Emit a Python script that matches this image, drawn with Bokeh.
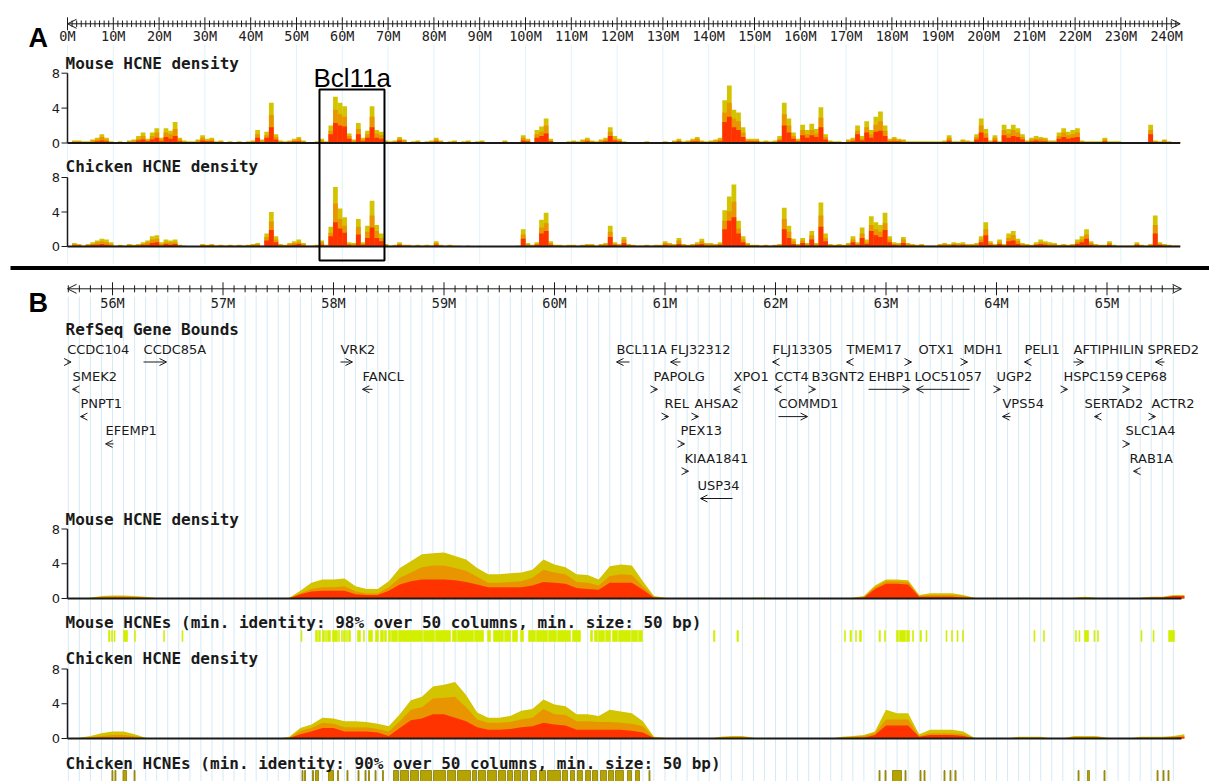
from bokeh.plotting import figure
from bokeh.models import Range1d, ColumnDataSource, Arrow, OpenHead
from bokeh.core.properties import value
from bokeh.embed import file_html
from bokeh.resources import INLINE

# ======================= DATA =======================
# Panel A: whole chromosome ruler (Mb)
A_ticks = [0, 10, 20, 30, 40, 50, 60, 70, 80, 90, 100, 110, 120, 130, 140, 150, 160, 170, 180, 190, 200, 210, 220, 230, 240]
A_tick_labels = ["0M", "10M", "20M", "30M", "40M", "50M", "60M", "70M", "80M", "90M", "100M", "110M", "120M",
                 "130M", "140M", "150M", "160M", "170M", "180M", "190M", "200M", "210M", "220M", "230M", "240M"]
A_chrom_len = 242.95
bcl_box = [55.02, 69.21]          # highlighted region in panel A (Mb)

# Panel A densities, 1 Mb bins starting at 0 (total / mid / low identity layers)
mouseA_total = [0, 0.3, 0.3, 0.2, 0.2, 0.4, 0.6, 1.0, 0.6, 0.2,
                0.1, 0.2, 0.1, 0.3, 0.4, 0.8, 1.2, 0.5, 1.2, 1.7,
                0.6, 1.7, 1.4, 2.4, 0.6, 0.3, 0.2, 0.2, 0.4, 0.9,
                0.5, 0.6, 0.2, 0.3, 0.1, 0.2, 0.1, 0.2, 0.1, 0.2,
                0.3, 1.5, 0.4, 1.3, 4.6, 1.0, 0.3, 0.2, 0.3, 0.5,
                0.7, 0.3, 0.1, 0.1, 0.2, 0.5, 0.2, 2.0, 5.3, 4.6,
                4.2, 1.1, 0.4, 2.3, 0.6, 1.4, 4.2, 1.5, 1.3, 0.3,
                0.2, 0.3, 0.7, 0.4, 0.1, 0.2, 0.3, 0.1, 0.2, 0.3,
                0.6, 0.3, 0.1, 0.2, 0.3, 0.1, 0.2, 0.3, 0.1, 0.2,
                0.3, 0.1, 0, 0, 0, 0.3, 0.1, 0.1, 0.1, 0.9,
                0.5, 0.1, 1.5, 1.9, 2.8, 0.5, 0.1, 0.1, 0.1, 0.2,
                0.3, 0.2, 0.4, 0.6, 0.3, 0.2, 0.4, 0.6, 1.8, 0.8,
                0.5, 0.2, 0.1, 0.1, 0.1, 0.1, 0.2, 0.1, 0.1, 0.1,
                0.2, 0.1, 0.3, 0.5, 0.2, 0.3, 0.5, 0.7, 0.3, 0.2,
                0.3, 0.4, 0.6, 4.9, 6.6, 3.8, 3.5, 1.8, 0.5, 0.5,
                0.5, 0.2, 0.3, 0.2, 0.3, 0.8, 4.6, 2.8, 1.2, 0.5,
                2.1, 1.5, 2.2, 1.6, 4.1, 1.0, 0.3, 0.2, 0.2, 0.1,
                0.4, 0.6, 2.0, 0.8, 2.5, 1.5, 3.0, 3.6, 2.0, 0.5,
                0.7, 0.5, 0.4, 0.2, 0.2, 0.2, 0.2, 0.2, 0.2, 0.2,
                0.2, 0.3, 0.9, 0.2, 0.2, 0.4, 0.3, 0.2, 1.0, 2.8,
                1.6, 0.3, 0.9, 0.2, 2.1, 1.6, 2.1, 1.7, 1.0, 0.3,
                0.6, 0.8, 0.7, 0.6, 0.3, 0.3, 1.2, 1.7, 1.3, 1.5,
                1.7, 0.3, 0.2, 0.2, 0.2, 0.2, 0.6, 0.2, 0.2, 0.2,
                0.1, 0.1, 0.1, 0.1, 0.1, 0.1, 2.1, 0.3, 0.2, 0.4,
                0.2, 0.1, 0.1]
mouseA_mid = [0, 0.2, 0.2, 0.1, 0.1, 0.3, 0.4, 0.7, 0.4, 0.1,
              0.1, 0.1, 0.1, 0.2, 0.3, 0.5, 0.8, 0.3, 0.8, 1.2,
              0.4, 1.2, 1.0, 1.6, 0.4, 0.2, 0.1, 0.1, 0.3, 0.6,
              0.3, 0.4, 0.1, 0.2, 0.1, 0.1, 0.1, 0.1, 0.1, 0.1,
              0.2, 1.0, 0.3, 0.9, 3.2, 0.7, 0.2, 0.1, 0.2, 0.3,
              0.5, 0.2, 0.1, 0.1, 0.1, 0.3, 0.1, 1.4, 3.8, 3.3,
              3.0, 0.8, 0.3, 1.6, 0.4, 1.0, 3.0, 1.1, 0.9, 0.2,
              0.1, 0.2, 0.5, 0.3, 0.1, 0.1, 0.2, 0.1, 0.1, 0.2,
              0.4, 0.2, 0.1, 0.1, 0.2, 0.1, 0.1, 0.2, 0.1, 0.1,
              0.2, 0.1, 0, 0, 0, 0.2, 0.1, 0.1, 0.1, 0.6,
              0.3, 0.1, 1.0, 1.3, 2.0, 0.3, 0.1, 0.1, 0.1, 0.1,
              0.2, 0.1, 0.3, 0.4, 0.2, 0.1, 0.3, 0.4, 1.3, 0.5,
              0.3, 0.1, 0.1, 0.1, 0.1, 0.1, 0.1, 0.1, 0.1, 0.1,
              0.1, 0.1, 0.2, 0.3, 0.1, 0.2, 0.3, 0.5, 0.2, 0.1,
              0.2, 0.3, 0.4, 3.5, 4.6, 2.8, 2.5, 1.2, 0.3, 0.3,
              0.3, 0.1, 0.2, 0.1, 0.2, 0.5, 3.3, 2.0, 0.8, 0.3,
              1.5, 1.0, 1.5, 1.1, 2.9, 0.7, 0.2, 0.1, 0.1, 0.1,
              0.3, 0.4, 1.4, 0.5, 1.8, 1.0, 2.1, 2.5, 1.4, 0.3,
              0.5, 0.3, 0.3, 0.1, 0.1, 0.1, 0.1, 0.1, 0.1, 0.1,
              0.1, 0.2, 0.6, 0.1, 0.1, 0.3, 0.2, 0.1, 0.7, 2.0,
              1.1, 0.2, 0.6, 0.1, 1.5, 1.1, 1.5, 1.2, 0.7, 0.2,
              0.4, 0.5, 0.5, 0.4, 0.2, 0.2, 0.8, 1.2, 0.9, 1.0,
              1.2, 0.2, 0.1, 0.1, 0.1, 0.1, 0.4, 0.1, 0.1, 0.1,
              0.1, 0.1, 0.1, 0.1, 0.1, 0.1, 1.5, 0.2, 0.1, 0.3,
              0.1, 0.1, 0.1]
mouseA_low = [0, 0.1, 0.1, 0.1, 0, 0.1, 0.2, 0.3, 0.2, 0,
              0, 0.1, 0, 0.1, 0.1, 0.3, 0.4, 0.2, 0.4, 0.6,
              0.2, 0.7, 0.5, 0.8, 0.2, 0.1, 0.1, 0, 0.1, 0.3,
              0.2, 0.2, 0, 0.1, 0, 0, 0, 0.1, 0, 0,
              0.1, 0.6, 0.1, 0.6, 1.8, 0.4, 0.1, 0, 0.1, 0.2,
              0.2, 0.1, 0, 0, 0, 0.1, 0.1, 1.0, 2.3, 2.0,
              1.9, 0.5, 0.1, 1.0, 0.2, 0.6, 1.8, 0.6, 0.5, 0.1,
              0, 0.1, 0.3, 0.1, 0, 0, 0.1, 0, 0, 0.1,
              0.2, 0.1, 0, 0, 0.1, 0, 0, 0.1, 0, 0,
              0.1, 0, 0, 0, 0, 0.1, 0, 0, 0, 0.3,
              0.2, 0, 0.6, 0.8, 1.1, 0.2, 0, 0, 0, 0.1,
              0.1, 0.1, 0.1, 0.2, 0.1, 0, 0.1, 0.2, 0.8, 0.3,
              0.2, 0.1, 0, 0, 0, 0, 0.1, 0, 0, 0,
              0.1, 0, 0.1, 0.2, 0.1, 0.1, 0.2, 0.2, 0.1, 0.1,
              0.1, 0.1, 0.2, 2.4, 3.0, 1.8, 1.5, 0.7, 0.2, 0.2,
              0.2, 0.1, 0.1, 0.1, 0.1, 0.3, 2.0, 1.2, 0.5, 0.2,
              0.9, 0.6, 0.9, 0.7, 1.8, 0.4, 0.1, 0.1, 0.1, 0,
              0.1, 0.2, 1.0, 0.3, 1.2, 0.6, 1.3, 1.4, 0.8, 0.2,
              0.2, 0.2, 0.1, 0.1, 0.1, 0, 0.1, 0, 0.1, 0,
              0.1, 0.1, 0.3, 0.1, 0, 0.1, 0.1, 0.1, 0.4, 1.2,
              0.6, 0.1, 0.3, 0.1, 0.9, 0.6, 0.8, 0.7, 0.4, 0.1,
              0.2, 0.3, 0.2, 0.2, 0.1, 0.1, 0.5, 0.7, 0.5, 0.6,
              0.7, 0.1, 0.1, 0, 0.1, 0, 0.2, 0.1, 0, 0.1,
              0, 0, 0.1, 0, 0, 0, 1.0, 0.1, 0.1, 0.1,
              0.1, 0, 0]
chickA_total = [0, 0.4, 0.3, 0.1, 0.3, 0.5, 0.7, 0.9, 0.8, 0.5,
                0.1, 0.2, 0.1, 0.3, 0.2, 0.3, 0.5, 0.7, 1.2, 1.3,
                0.5, 0.8, 0.7, 0.8, 0.2, 0.1, 0, 0, 0, 0.3,
                0.2, 0.3, 0.1, 0.2, 0.1, 0.2, 0.1, 0.2, 0.1, 0.2,
                0.3, 0.4, 0.1, 1.5, 4.0, 1.2, 0.3, 0.2, 0.4, 0.6,
                0.8, 0.4, 0.1, 0.1, 0.2, 0.7, 0.2, 2.3, 6.9, 4.4,
                3.4, 0.5, 0.4, 3.2, 0.5, 2.4, 5.3, 2.5, 1.5, 0.3,
                0.1, 0.2, 0.5, 0.2, 0.2, 0.1, 0.2, 0.1, 0.2, 0.1,
                0.6, 0.2, 0.1, 0.2, 0.1, 0.1, 0, 0.1, 0, 0,
                0, 0, 0, 0, 0, 0, 0, 0, 0.1, 2.0,
                0.4, 0.2, 0.5, 3.1, 3.9, 0.6, 0.2, 0.2, 0.1, 0.2,
                0.2, 0.1, 0.2, 0.3, 0.3, 0.1, 0.3, 0.4, 2.4, 0.5,
                0.3, 1.1, 0.3, 0.2, 0.1, 0.1, 0.2, 0.1, 0.2, 0.2,
                0.6, 0.4, 0.3, 1.0, 0.3, 0.2, 0.3, 0.5, 0.9, 0.4,
                0.4, 0.3, 0.5, 4.2, 5.8, 7.2, 3.0, 1.2, 0.4, 0.2,
                0.2, 0.1, 0.2, 0.1, 0.2, 0.3, 4.5, 2.4, 0.9, 0.3,
                1.0, 0.4, 1.8, 0.4, 5.1, 1.5, 0.3, 0.2, 0.3, 0.2,
                0.4, 1.2, 0.5, 2.2, 0.8, 3.5, 2.8, 2.5, 3.9, 1.2,
                0.5, 0.4, 1.1, 0.4, 0.3, 0.2, 0.3, 0.1, 0.1, 0.1,
                0.3, 0.4, 0.3, 0.5, 0.4, 0.5, 0.3, 0.3, 0.4, 1.2,
                2.8, 0.6, 0.3, 0.8, 0.3, 1.5, 1.8, 0.9, 0.4, 0.3,
                0.2, 0.5, 0.8, 0.6, 0.5, 0.4, 0.2, 0.3, 0.2, 0.3,
                0.8, 1.2, 2.0, 0.6, 0.3, 0.2, 0.2, 0.6, 0.2, 0.1,
                0.1, 0.1, 0.1, 0.5, 0.2, 0.1, 0.3, 3.6, 0.5, 0.3,
                0.2, 0.1, 0.1]
chickA_mid = [0, 0.3, 0.2, 0.1, 0.2, 0.3, 0.5, 0.6, 0.5, 0.3,
              0.1, 0.1, 0.1, 0.2, 0.1, 0.2, 0.3, 0.5, 0.8, 0.9,
              0.3, 0.5, 0.5, 0.5, 0.1, 0.1, 0, 0, 0, 0.2,
              0.1, 0.2, 0.1, 0.1, 0.1, 0.1, 0.1, 0.1, 0.1, 0.1,
              0.2, 0.3, 0.1, 1.1, 2.9, 0.8, 0.2, 0.1, 0.3, 0.4,
              0.5, 0.3, 0.1, 0.1, 0.1, 0.5, 0.1, 1.6, 5.0, 3.2,
              2.4, 0.3, 0.3, 2.3, 0.3, 1.7, 3.6, 1.8, 1.0, 0.2,
              0.1, 0.1, 0.3, 0.1, 0.1, 0.1, 0.1, 0.1, 0.1, 0.1,
              0.4, 0.1, 0.1, 0.1, 0.1, 0.1, 0, 0.1, 0, 0,
              0, 0, 0, 0, 0, 0, 0, 0, 0.1, 1.4,
              0.3, 0.1, 0.3, 2.2, 2.7, 0.4, 0.1, 0.1, 0.1, 0.1,
              0.1, 0.1, 0.1, 0.2, 0.2, 0.1, 0.2, 0.3, 1.7, 0.3,
              0.2, 0.8, 0.2, 0.1, 0.1, 0.1, 0.1, 0.1, 0.1, 0.1,
              0.4, 0.3, 0.2, 0.7, 0.2, 0.1, 0.2, 0.3, 0.6, 0.3,
              0.3, 0.2, 0.3, 3.0, 4.1, 5.2, 2.1, 0.8, 0.3, 0.1,
              0.1, 0.1, 0.1, 0.1, 0.1, 0.2, 3.2, 1.7, 0.6, 0.2,
              0.7, 0.3, 1.3, 0.3, 3.6, 1.0, 0.2, 0.1, 0.2, 0.1,
              0.3, 0.8, 0.3, 1.5, 0.5, 2.5, 2.0, 1.7, 2.7, 0.8,
              0.3, 0.3, 0.8, 0.3, 0.2, 0.1, 0.2, 0.1, 0.1, 0.1,
              0.2, 0.3, 0.2, 0.3, 0.3, 0.3, 0.2, 0.2, 0.3, 0.8,
              2.0, 0.4, 0.2, 0.5, 0.2, 1.0, 1.3, 0.6, 0.3, 0.2,
              0.1, 0.3, 0.5, 0.4, 0.3, 0.3, 0.1, 0.2, 0.1, 0.2,
              0.5, 0.8, 1.4, 0.4, 0.2, 0.1, 0.1, 0.4, 0.1, 0.1,
              0.1, 0.1, 0.1, 0.3, 0.1, 0.1, 0.2, 2.5, 0.3, 0.2,
              0.1, 0.1, 0.1]
chickA_low = [0, 0.1, 0.1, 0, 0.1, 0.2, 0.2, 0.3, 0.2, 0.1,
              0, 0.1, 0, 0.1, 0.1, 0.1, 0.2, 0.2, 0.4, 0.5,
              0.1, 0.3, 0.2, 0.3, 0.1, 0, 0, 0, 0, 0.1,
              0.1, 0.1, 0, 0.1, 0, 0.1, 0, 0.1, 0, 0.1,
              0.1, 0.1, 0, 0.7, 1.9, 0.5, 0.1, 0.1, 0.1, 0.2,
              0.3, 0.1, 0, 0, 0.1, 0.2, 0.1, 1.2, 2.8, 2.1,
              1.6, 0.2, 0.1, 1.4, 0.2, 1.0, 2.2, 1.0, 0.6, 0.1,
              0, 0.1, 0.2, 0.1, 0.1, 0, 0.1, 0, 0.1, 0,
              0.2, 0.1, 0, 0.1, 0, 0, 0, 0, 0, 0,
              0, 0, 0, 0, 0, 0, 0, 0, 0, 0.9,
              0.1, 0.1, 0.2, 1.5, 1.8, 0.2, 0.1, 0.1, 0, 0.1,
              0.1, 0, 0.1, 0.1, 0.1, 0, 0.1, 0.1, 1.1, 0.2,
              0.1, 0.4, 0.1, 0.1, 0, 0, 0.1, 0, 0.1, 0.1,
              0.2, 0.1, 0.1, 0.3, 0.1, 0.1, 0.1, 0.2, 0.3, 0.1,
              0.1, 0.1, 0.2, 2.0, 3.0, 3.4, 1.5, 0.5, 0.1, 0.1,
              0.1, 0, 0.1, 0, 0.1, 0.1, 2.0, 1.0, 0.3, 0.1,
              0.4, 0.1, 0.8, 0.1, 2.3, 0.6, 0.1, 0.1, 0.1, 0.1,
              0.1, 0.5, 0.2, 1.0, 0.3, 1.8, 1.3, 1.1, 1.9, 0.5,
              0.2, 0.1, 0.4, 0.1, 0.1, 0.1, 0.1, 0, 0, 0,
              0.1, 0.1, 0.1, 0.2, 0.1, 0.2, 0.1, 0.1, 0.1, 0.5,
              1.3, 0.2, 0.1, 0.3, 0.1, 0.6, 0.7, 0.3, 0.1, 0.1,
              0.1, 0.2, 0.3, 0.2, 0.1, 0.1, 0.1, 0.1, 0.1, 0.1,
              0.3, 0.5, 0.9, 0.2, 0.1, 0.1, 0.1, 0.2, 0.1, 0,
              0, 0, 0, 0.2, 0.1, 0, 0.1, 1.5, 0.2, 0.1,
              0.1, 0, 0]

# Panel B: zoomed region ruler (Mb)
B_ticks = [56, 57, 58, 59, 60, 61, 62, 63, 64, 65]
B_tick_labels = ["56M", "57M", "58M", "59M", "60M", "61M", "62M", "63M", "64M", "65M"]
B_view = [55.593, 65.674]

# Panel B densities, 0.1 Mb steps starting at 55.6 Mb
B_bin_start, B_bin_step = 55.6, 0.1
mouseB_total = [0, 0, 0.1, 0.3, 0.35, 0.35, 0.3, 0.2, 0.05, 0,
                0, 0, 0, 0, 0, 0, 0, 0, 0, 0,
                0.1, 0.9, 1.8, 2.2, 2.2, 2.3, 1.4, 1.1, 1.1, 2.0,
                3.5, 4.3, 5.1, 5.2, 5.3, 4.9, 4.5, 3.5, 2.8, 2.8,
                2.9, 3.0, 3.3, 4.5, 3.9, 3.6, 2.8, 2.7, 2.2, 3.7,
                3.9, 3.8, 2.0, 0.3, 0.1, 0, 0, 0, 0, 0,
                0, 0, 0.1, 0.1, 0, 0, 0, 0, 0, 0,
                0, 0.1, 0.3, 1.5, 2.2, 2.2, 2.1, 0.4, 0.6, 0.6,
                0.6, 0.4, 0.1, 0, 0, 0, 0.1, 0.1, 0, 0,
                0, 0.1, 0.2, 0.1, 0, 0, 0, 0.1, 0.2, 0.2,
                0.4, 0.4]
mouseB_mid = [0, 0, 0.05, 0.2, 0.25, 0.25, 0.2, 0.1, 0, 0,
              0, 0, 0, 0, 0, 0, 0, 0, 0, 0,
              0.05, 0.6, 1.1, 1.3, 1.3, 1.4, 0.8, 0.6, 0.6, 1.3,
              2.4, 3.0, 3.6, 3.8, 3.8, 3.5, 3.2, 2.5, 1.8, 1.8,
              1.9, 2.0, 2.4, 3.3, 3.0, 2.8, 1.9, 1.8, 1.5, 2.6,
              2.8, 2.7, 1.4, 0.2, 0.05, 0, 0, 0, 0, 0,
              0, 0, 0.05, 0.05, 0, 0, 0, 0, 0, 0,
              0, 0.05, 0.2, 1.3, 2.0, 2.0, 1.9, 0.3, 0.4, 0.4,
              0.4, 0.3, 0.05, 0, 0, 0, 0.05, 0.05, 0, 0,
              0, 0.05, 0.1, 0.05, 0, 0, 0, 0.05, 0.15, 0.15,
              0.3, 0.3]
mouseB_low = [0, 0, 0, 0.05, 0.1, 0.1, 0.05, 0.05, 0, 0,
              0, 0, 0, 0, 0, 0, 0, 0, 0, 0,
              0, 0.5, 0.8, 0.9, 0.9, 0.9, 0.5, 0.4, 0.4, 0.9,
              1.6, 2.0, 2.2, 2.2, 2.2, 2.1, 1.9, 1.6, 1.3, 1.3,
              1.3, 1.3, 1.5, 1.9, 1.8, 1.7, 1.2, 1.1, 1.0, 1.8,
              1.8, 1.8, 1.0, 0.1, 0, 0, 0, 0, 0, 0,
              0, 0, 0, 0, 0, 0, 0, 0, 0, 0,
              0, 0, 0.1, 1.1, 1.7, 1.7, 1.6, 0.2, 0.2, 0.2,
              0.2, 0.1, 0, 0, 0, 0, 0, 0, 0, 0,
              0, 0, 0.05, 0, 0, 0, 0, 0, 0.1, 0.1,
              0.3, 0.3]
chickB_total = [0, 0.1, 0.3, 0.6, 0.8, 0.8, 0.5, 0.1, 0, 0,
                0, 0, 0, 0, 0, 0, 0, 0, 0, 0,
                0.2, 1.2, 1.6, 2.4, 2.3, 2.0, 2.0, 1.9, 1.7, 1.4,
                2.8, 4.4, 4.8, 6.0, 6.2, 6.5, 5.0, 3.0, 2.4, 2.4,
                2.6, 3.2, 3.4, 4.5, 3.9, 3.7, 2.8, 2.8, 2.6, 3.3,
                3.1, 2.9, 2.0, 0.2, 0.1, 0, 0, 0, 0, 0.2,
                0.3, 0.3, 0.1, 0, 0, 0, 0, 0, 0, 0,
                0.2, 0.3, 0.4, 0.8, 3.3, 2.9, 2.9, 0.5, 1.0, 1.0,
                1.0, 0.8, 0.1, 0, 0, 0, 0.2, 0.2, 0.2, 0,
                0, 0.3, 0.3, 0.3, 0.1, 0, 0, 0.2, 0.2, 0.2,
                0.3, 0.5]
chickB_mid = [0, 0.05, 0.15, 0.3, 0.4, 0.4, 0.25, 0.05, 0, 0,
              0, 0, 0, 0, 0, 0, 0, 0, 0, 0,
              0.1, 0.9, 1.2, 1.8, 1.7, 1.3, 1.3, 1.3, 1.1, 0.8,
              2.0, 3.3, 3.6, 4.6, 4.7, 4.8, 3.6, 2.2, 1.8, 1.8,
              1.9, 2.2, 2.4, 3.4, 2.8, 2.7, 2.0, 2.0, 1.9, 1.9,
              1.8, 1.7, 1.4, 0.1, 0.05, 0, 0, 0, 0, 0.1,
              0.2, 0.2, 0.05, 0, 0, 0, 0, 0, 0, 0,
              0.1, 0.2, 0.3, 0.6, 2.2, 2.2, 2.2, 0.3, 0.6, 0.6,
              0.6, 0.5, 0.05, 0, 0, 0, 0.1, 0.1, 0.1, 0,
              0, 0.15, 0.15, 0.15, 0.05, 0, 0, 0.1, 0.1, 0.1,
              0.2, 0.3]
chickB_low = [0, 0, 0.05, 0.1, 0.1, 0.1, 0.05, 0, 0, 0,
              0, 0, 0, 0, 0, 0, 0, 0, 0, 0,
              0.05, 0.5, 0.8, 1.2, 1.2, 0.8, 0.8, 0.8, 0.7, 0.3,
              1.2, 2.1, 2.3, 2.8, 2.8, 2.4, 2.0, 1.3, 1.0, 1.0,
              1.1, 1.3, 1.4, 1.8, 1.6, 1.5, 1.0, 1.0, 1.0, 1.0,
              1.0, 0.9, 0.7, 0.05, 0, 0, 0, 0, 0, 0.05,
              0.05, 0.05, 0, 0, 0, 0, 0, 0, 0, 0,
              0, 0.05, 0.1, 0.4, 1.5, 1.5, 1.5, 0.2, 0.4, 0.4,
              0.4, 0.3, 0, 0, 0, 0, 0.05, 0.05, 0.05, 0,
              0, 0.1, 0.1, 0.1, 0, 0, 0, 0.05, 0.05, 0.05,
              0.1, 0.2]

# HCNE element positions in panel B (start, end in Mb)
mouse_hcnes = [(55.964, 55.977), (55.991, 56.000), (56.014, 56.023), (56.100, 56.136), (56.199, 56.208),
               (56.462, 56.471), (56.629, 56.638), (57.706, 57.715), (57.837, 57.855), (57.864, 57.882),
               (57.900, 57.919), (57.928, 57.937), (57.946, 57.973), (57.991, 58.036), (58.045, 58.054),
               (58.072, 58.081), (58.090, 58.108), (58.117, 58.126), (58.136, 58.154), (58.217, 58.244),
               (58.271, 58.280), (58.317, 58.353), (58.380, 58.407), (58.425, 58.452), (58.461, 58.479),
               (58.498, 58.516), (58.525, 58.579), (58.588, 58.805), (58.814, 58.914), (58.923, 59.059),
               (59.077, 59.113), (59.122, 59.267), (59.276, 59.358), (59.394, 59.421), (59.448, 59.538),
               (59.548, 59.602), (59.620, 59.665), (59.692, 59.719), (59.765, 59.828), (59.837, 59.937),
               (59.946, 60.018), (60.027, 60.145), (60.163, 60.236), (60.326, 60.344), (60.362, 60.389),
               (60.398, 60.452), (60.462, 60.507), (60.525, 60.570), (60.579, 60.688), (60.697, 60.751),
               (60.760, 60.796), (61.439, 61.452), (61.651, 61.665), (62.624, 62.633), (62.674, 62.688),
               (62.724, 62.733), (62.760, 62.778), (62.937, 62.950), (62.986, 62.995), (63.095, 63.113),
               (63.122, 63.177), (63.186, 63.213), (63.240, 63.249), (63.308, 63.321), (63.362, 63.371),
               (63.543, 63.552), (63.593, 63.602), (63.643, 63.652), (63.692, 63.701), (64.339, 64.348),
               (64.425, 64.434), (64.714, 64.723), (64.746, 64.755), (64.796, 64.833), (64.882, 64.891),
               (64.914, 64.923), (65.308, 65.317), (65.417, 65.426), (65.557, 65.611)]
chick_hcnes = [(55.995, 56.004), (56.022, 56.031), (56.095, 56.127), (56.195, 56.204), (57.715, 57.724),
               (57.738, 57.747), (57.810, 57.819), (57.837, 57.864), (57.955, 58.000), (58.036, 58.045),
               (58.122, 58.131), (58.222, 58.231), (58.285, 58.294), (58.317, 58.326), (58.376, 58.385),
               (58.443, 58.452), (58.543, 58.588), (58.606, 58.679), (58.697, 58.769), (58.787, 58.887),
               (58.905, 59.013), (59.031, 59.104), (59.122, 59.240), (59.258, 59.294), (59.312, 59.376),
               (59.394, 59.475), (59.493, 59.557), (59.575, 59.620), (59.638, 59.692), (59.710, 59.756),
               (59.783, 59.837), (59.864, 59.919), (59.937, 60.054), (60.072, 60.118), (60.145, 60.181),
               (60.208, 60.253), (60.281, 60.326), (60.344, 60.389), (60.416, 60.471), (60.489, 60.534),
               (60.552, 60.624), (60.660, 60.697), (60.733, 60.769), (60.855, 60.864), (62.937, 62.946),
               (62.991, 63.000), (63.059, 63.140), (63.172, 63.181), (63.308, 63.317), (63.344, 63.353),
               (63.525, 63.534), (63.579, 63.588), (63.624, 63.634), (64.738, 64.747), (64.823, 64.841),
               (64.973, 64.982), (65.453, 65.462), (65.507, 65.516), (65.552, 65.561)]

# RefSeq genes: name, start, end (Mb), strand, display row
gene_name = ["CCDC104", "CCDC85A", "VRK2", "BCL11A", "FLJ32312", "FLJ13305", "TMEM17", "OTX1", "MDH1",
             "PELI1", "AFTIPHILIN", "SPRED2",
             "SMEK2", "FANCL", "PAPOLG", "XPO1", "CCT4", "B3GNT2", "EHBP1", "LOC51057", "UGP2", "HSPC159", "CEP68",
             "PNPT1", "REL", "AHSA2", "COMMD1", "VPS54", "SERTAD2", "ACTR2",
             "EFEMP1", "PEX13", "SLC1A4",
             "KIAA1841", "RAB1A",
             "USP34"]
gene_start = [55.590, 56.281, 58.063, 60.561, 61.050, 61.973, 62.643, 63.195, 63.701, 64.253, 64.697, 65.439,
              55.638, 58.262, 60.896, 61.620, 61.991, 62.326, 62.842, 63.276, 64.000, 64.606, 65.167,
              55.710, 60.995, 61.267, 62.027, 64.054, 64.887, 65.403,
              55.937, 61.140, 65.167,
              61.177, 65.240,
              61.321]
gene_end = [55.625, 56.489, 58.172, 60.679, 61.140, 62.009, 62.679, 63.231, 63.738, 64.290, 64.787, 65.520,
            55.674, 58.353, 60.932, 61.674, 62.027, 62.362, 63.213, 63.756, 64.036, 64.643, 65.204,
            55.747, 61.032, 61.303, 62.290, 64.127, 64.923, 65.439,
            56.009, 61.177, 65.204,
            61.213, 65.276,
            61.611]
gene_strand = ["+", "+", "+", "-", "-", "-", "-", "+", "+", "-", "+", "-",
               "-", "-", "+", "-", "-", "+", "+", "-", "+", "+", "+",
               "-", "+", "+", "+", "-", "-", "+",
               "-", "+", "+",
               "+", "-",
               "-"]
gene_row = [0] * 12 + [1] * 11 + [2] * 7 + [3] * 3 + [4] * 2 + [5]

# ======================= STYLE / LAYOUT =======================
W, H = 1209, 781
PX0, PY0 = 0, 0
YEL, ORA, RED = "#d4c400", "#e99500", "#ff3300"
MOUSE_HC, CHICK_HC, CHICK_HC_LINE = "#d2ef00", "#b4a300", "#8a7c00"
GRID_A, GRID_B = "#dff3f9", "#d4eaf5"
INK = "#1a1a1a"
MONO = value("DejaVu Sans Mono")
SANS = value("DejaVu Sans")
label_shift = {"OTX1": 11, "SPRED2": -8, "SERTAD2": -10, "RAB1A": -4, "LOC51057": -2, "USP34": -3}

A_ZERO_PX, A_PX_PER_MB = 67.0, 4.58
B_REF_MB, B_REF_PX, B_PX_PER_MB = 56.0, 112.0, 110.5

p = figure(width=W, height=H, output_backend="svg", toolbar_location=None, title=None,
           x_range=Range1d(PX0, PX0 + W), y_range=Range1d(PY0 + H, PY0),
           x_axis_location=None, y_axis_location=None, min_border=0)
p.grid.visible = False
p.outline_line_color = None
p.background_fill_color = "white"

p.extra_x_ranges = {
    "A": Range1d((PX0 - A_ZERO_PX) / A_PX_PER_MB, (PX0 + W - A_ZERO_PX) / A_PX_PER_MB),
    "B": Range1d(B_REF_MB + (PX0 - B_REF_PX) / B_PX_PER_MB, B_REF_MB + (PX0 + W - B_REF_PX) / B_PX_PER_MB),
}


def track_range(zero_px, eight_px):
    k = (zero_px - eight_px) / 8.0
    return Range1d((zero_px - (PY0 + H)) / k, (zero_px - PY0) / k)


p.extra_y_ranges = {
    "mA": track_range(142.5, 72.7),
    "cA": track_range(246.0, 177.0),
    "mB": track_range(598.0, 528.5),
    "cB": track_range(738.0, 668.5),
}


def txt(x, y, t, font=MONO, size="13px", align="left", style="normal", color=INK, xr="default",
        baseline="middle", x_offset=0):
    p.text(x=x, y=y, text=t, text_font=font, text_font_size=size, text_align=align,
           text_baseline=baseline, text_font_style=style, text_color=color, x_range_name=xr, x_offset=x_offset)


# ---------- gridlines ----------
p.segment(x0=A_ticks, x1=A_ticks, y0=44, y1=263, line_color=GRID_A, line_width=1, x_range_name="A")
B_grid = [round(55.6 + 0.1 * i, 1) for i in range(101)]
p.segment(x0=B_grid, x1=B_grid, y0=296, y1=PY0 + H, line_color=GRID_B, line_width=1, x_range_name="B")

# ---------- rulers ----------
def ruler(xr, lo, hi, y, majors, labels, minors, maj_half, min_half, lab_y):
    p.add_layout(Arrow(start=OpenHead(size=9, line_width=1, line_color=INK),
                       end=OpenHead(size=9, line_width=1, line_color=INK),
                       x_start=lo, x_end=hi, y_start=y, y_end=y, x_range_name=xr,
                       line_color=INK, line_width=1))
    p.segment(x0=minors, x1=minors, y0=y - min_half, y1=y + min_half, line_color=INK, line_width=1, x_range_name=xr)
    p.segment(x0=majors, x1=majors, y0=y - maj_half, y1=y + maj_half, line_color=INK, line_width=1, x_range_name=xr)
    txt(majors, [lab_y] * len(majors), labels, size="13.5px", align="center", xr=xr, color="#222")


A_minor = [m for m in range(1, 243) if m % 10 != 0]
ruler("A", 0, A_chrom_len, 23.3, A_ticks, A_tick_labels, A_minor, 6.5, 3.3, 35.5)
B_minor = [round(55.6 + 0.1 * i, 1) for i in range(101) if (i + 6) % 10 != 0]
ruler("B", B_view[0], B_view[1], 288.3, B_ticks, B_tick_labels, B_minor, 6.5, 3.5, 302.5)

# ---------- density tracks ----------
def density_axis(yr):
    p.segment(x0=[67], x1=[67], y0=[0], y1=[8], line_color=INK, line_width=1.5, y_range_name=yr)
    p.segment(x0=[61, 61, 61], x1=[67, 67, 67], y0=[0, 4, 8], y1=[0, 4, 8], line_color=INK, line_width=1,
              y_range_name=yr)
    p.text(x=[59.5] * 3, y=[0, 4, 8], text=["0", "4", "8"], text_font=SANS, text_font_size="13px",
           text_align="right", text_baseline="middle", text_color=INK, y_range_name=yr)


A_x = [i + 0.5 for i in range(len(mouseA_total))]
for yr, layers in (("mA", (mouseA_total, mouseA_mid, mouseA_low)), ("cA", (chickA_total, chickA_mid, chickA_low))):
    for vals, col in zip(layers, (YEL, ORA, RED)):
        p.vbar(x=A_x, top=vals, bottom=0, width=1.04, fill_color=col, line_color=None,
               x_range_name="A", y_range_name=yr)
    p.segment(x0=[0], x1=[A_chrom_len], y0=[0], y1=[0], line_color=INK, line_width=2,
              x_range_name="A", y_range_name=yr)
    density_axis(yr)

B_x = [B_bin_start + B_bin_step * i for i in range(len(mouseB_total))]
for yr, layers in (("mB", (mouseB_total, mouseB_mid, mouseB_low)), ("cB", (chickB_total, chickB_mid, chickB_low))):
    for vals, col in zip(layers, (YEL, ORA, RED)):
        p.varea(x=B_x, y1=[0] * len(B_x), y2=vals, fill_color=col, x_range_name="B", y_range_name=yr)
    p.segment(x0=[B_view[0]], x1=[B_view[1]], y0=[0], y1=[0], line_color=INK, line_width=2,
              x_range_name="B", y_range_name=yr)
    density_axis(yr)

# ---------- HCNE element tracks ----------
p.quad(left=[a for a, b in mouse_hcnes], right=[b for a, b in mouse_hcnes], top=630, bottom=641,
       fill_color=MOUSE_HC, line_color=MOUSE_HC, line_width=0.6, x_range_name="B")
p.quad(left=[a for a, b in chick_hcnes], right=[b for a, b in chick_hcnes], top=770, bottom=781,
       fill_color=CHICK_HC, line_color=CHICK_HC_LINE, line_width=0.8, x_range_name="B")

# ---------- genes ----------
ROW0, ROW_STEP, ARROW_DY = 348.5, 27.3, 13.0
name_y = [ROW0 + ROW_STEP * r for r in gene_row]
arr_y = [y + ARROW_DY for y in name_y]
xs = [s if st == "+" else e for s, e, st in zip(gene_start, gene_end, gene_strand)]
xe = [e if st == "+" else s for s, e, st in zip(gene_start, gene_end, gene_strand)]
gsrc = ColumnDataSource(dict(xs=xs, xe=xe, y=arr_y))
p.add_layout(Arrow(source=gsrc, x_start="xs", x_end="xe", y_start="y", y_end="y", x_range_name="B",
                   end=OpenHead(size=7, line_width=1, line_color=INK), line_color=INK, line_width=1))
txt(gene_start, name_y, gene_name, font=SANS, size="13px", xr="B",
    x_offset=[label_shift.get(n, 0) for n in gene_name])

# ---------- labels ----------
BOLD = dict(font=MONO, size="16px", style="bold")
txt([65], [63], ["Mouse HCNE density"], **BOLD)
txt([65], [166], ["Chicken HCNE density"], **BOLD)
txt([65], [329], ["RefSeq Gene Bounds"], **BOLD)
txt([65], [519], ["Mouse HCNE density"], **BOLD)
txt([65], [622], ["Mouse HCNEs (min. identity: 98% over 50 columns, min. size: 50 bp)"], **BOLD)
txt([65], [658], ["Chicken HCNE density"], **BOLD)
txt([65], [762.5], ["Chicken HCNEs (min. identity: 90% over 50 columns, min. size: 50 bp)"], **BOLD)

txt([28], [37], ["A"], font=value("Liberation Sans"), size="27px", style="bold", color="black",
    baseline="alphabetic")
txt([28], [302], ["B"], font=value("Liberation Sans"), size="27px", style="bold", color="black",
    baseline="alphabetic")
txt([313], [77], ["Bcl11a"], font=value("Liberation Sans"), size="26px", color="black", baseline="alphabetic")

# Bcl11a box in panel A and separator between panels
p.quad(left=[bcl_box[0]], right=[bcl_box[1]], top=[89], bottom=[260], fill_color=None, line_color="black",
       line_width=2, x_range_name="A")
p.segment(x0=[10], x1=[PX0 + W], y0=[267.5], y1=[267.5], line_color="black", line_width=4)

open("out.html", "w").write(file_html(p, INLINE))
